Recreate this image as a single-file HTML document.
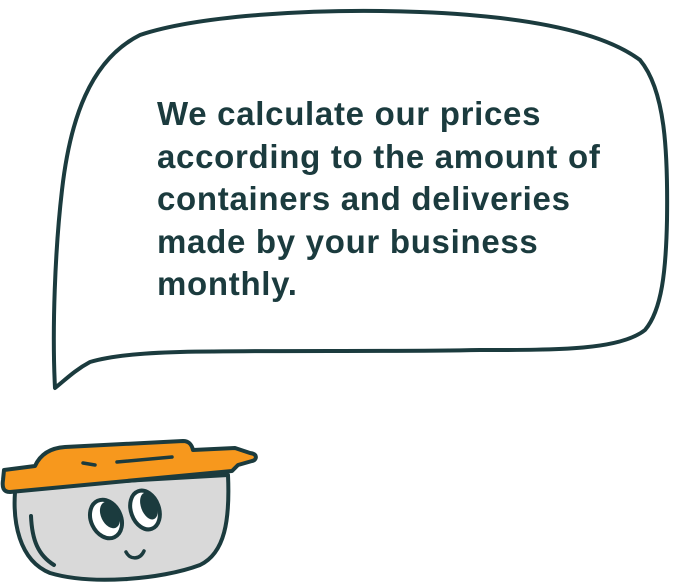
<!DOCTYPE html>
<html><head><style>
html,body{margin:0;padding:0;background:#fff;width:675px;height:585px;overflow:hidden}
svg{position:absolute;left:0;top:0}
.t{position:absolute;left:157px;top:93px;font-family:"Liberation Sans",sans-serif;font-weight:bold;font-size:33px;line-height:42.5px;color:#1b3b3e;letter-spacing:0.7px;white-space:nowrap}
</style></head><body>
<svg width="675" height="585" viewBox="0 0 675 585">
<path d="M55 388 C52 330 55 250 62 190 C70 120 90 60 140 35 C200 15 320 8 420 12 C520 16 600 30 640 60 C665 90 668 150 667 220 C666 270 662 310 645 330 C620 350 560 350 480 350 C380 352 280 350 180 352 C140 353 110 356 90 362 C75 370 65 380 55 388 Z" fill="#fff" stroke="#1b3b3e" stroke-width="4" stroke-linejoin="round"/>
<path d="M15 492 C13 520 18 560 50 573 C90 585 160 580 200 565 C225 553 230 520 228 475 L18 487 Z" fill="#d9d9d9" stroke="#1b3b3e" stroke-width="4" stroke-linejoin="round"/>
<path d="M31 516 C32 540 38 555 54 565" fill="none" stroke="#1b3b3e" stroke-width="4" stroke-linecap="round"/>
<path d="M4 470 L35 466 C40 455 50 448 65 447 C110 445 150 443 183 441 C190 441 192 446 193 450 L235 448 L250 453 C258 454 257 460 252 461 L238 465 L232 471 L10 492 C3 492 2 487 3 480 Z" fill="#f7981d" stroke="#1b3b3e" stroke-width="4" stroke-linejoin="round"/>
<path d="M83 463 L95 465 M117 462 L172 457" stroke="#1b3b3e" stroke-width="3.5" stroke-linecap="round"/>
<ellipse cx="106" cy="519" rx="15" ry="20" transform="rotate(-25 106 519)" fill="#fff" stroke="#1b3b3e" stroke-width="4"/>
<ellipse cx="110" cy="515" rx="9" ry="14" transform="rotate(-25 110 515)" fill="#1b3b3e"/>
<ellipse cx="145" cy="510" rx="14" ry="20" transform="rotate(-20 145 510)" fill="#fff" stroke="#1b3b3e" stroke-width="4"/>
<ellipse cx="149" cy="506" rx="8" ry="14" transform="rotate(-20 149 506)" fill="#1b3b3e"/>
<path d="M126 552 C130 560 140 560 144 551" fill="none" stroke="#1b3b3e" stroke-width="3.5" stroke-linecap="round"/>
</svg>
<div class="t">We calculate our prices<br>according to the amount of<br>containers and deliveries<br>made by your business<br>monthly.</div>
</body></html>
